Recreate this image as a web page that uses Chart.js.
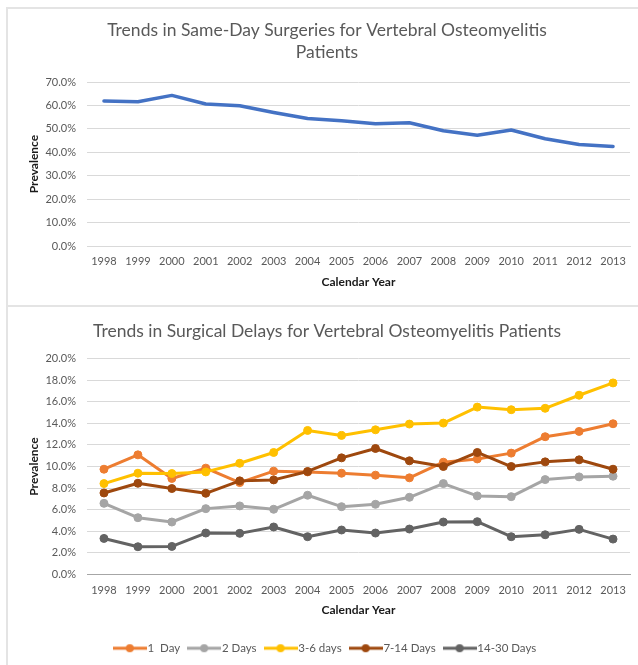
<!DOCTYPE html>
<html>
<head>
<meta charset="utf-8">
<title>Vertebral Osteomyelitis Surgery Trends</title>
<script src="https://cdn.jsdelivr.net/npm/chart.js@4.4.0/dist/chart.umd.min.js"></script>
<style>
  html, body { margin: 0; padding: 0; background: #fff; overflow: hidden; }
  .panel { position: absolute; box-sizing: border-box; border: 2px solid #e4e4e4; }
  #panelTop { left: 6px; top: 7px; width: 660px; height: 300px; }
  #panelBottom { left: 6px; top: 305px; width: 660px; height: 400px; }
  canvas { position: absolute; }
  #sameDayChart { left: 7px; top: 8px; }
  #delayChart { left: 7px; top: 309px; }
</style>
</head>
<body>
<div class="panel" id="panelTop"></div>
<div class="panel" id="panelBottom"></div>
<canvas id="sameDayChart" width="640" height="297"></canvas>
<canvas id="delayChart" width="640" height="356"></canvas>

<script>
// Data (percent)
const years = ['1998', '1999', '2000', '2001', '2002', '2003', '2004', '2005',
               '2006', '2007', '2008', '2009', '2010', '2011', '2012', '2013'];

const sameDay = [61.9, 61.6, 64.3, 60.6, 59.9, 57.0, 54.4, 53.5,
                 52.2, 52.6, 49.2, 47.3, 49.5, 45.8, 43.3, 42.5];

const delayLabels = ['1  Day', '2 Days', '3-6 days', '7-14 Days', '14-30 Days'];
const oneDay = [9.75, 11.08, 8.89, 9.85, 8.51, 9.57, 9.5, 9.38, 9.2, 8.95, 10.4, 10.7, 11.24, 12.76, 13.25, 13.96];
const twoDays = [6.59, 5.26, 4.86, 6.1, 6.35, 6.04, 7.34, 6.28, 6.5, 7.15, 8.42, 7.28, 7.21, 8.79, 9.04, 9.1];
const threeToSixDays = [8.42, 9.38, 9.35, 9.5, 10.3, 11.3, 13.34, 12.88, 13.4, 13.93, 14.02, 15.5, 15.26, 15.39, 16.6, 17.74];
const sevenToFourteenDays = [7.55, 8.45, 7.96, 7.52, 8.67, 8.76, 9.54, 10.8, 11.67, 10.53, 10.0, 11.3, 10.0, 10.43, 10.62, 9.75];
const fourteenToThirtyDays = [3.34, 2.57, 2.6, 3.84, 3.81, 4.4, 3.5, 4.12, 3.84, 4.21, 4.86, 4.89, 3.5, 3.68, 4.18, 3.28];

// Axis ranges (percent)
const sameDayAxis = { max: 70, step: 10 };
const delayAxis = { max: 20, step: 2 };

const delayColors = ['#ED7D31', '#A5A5A5', '#FFC000', '#9E480E', '#636363'];

const FONT = 'Lato, "Open Sans", sans-serif';
const tickColor = '#595959';
const gridColor = '#d9d9d9';

// Shared axis setup
function xAxis(borderColor, height, titlePad) {
    return {
        offset: true,
        grid: { display: false, drawTicks: false },
        border: { display: true, color: borderColor, width: 1 },
        ticks: { color: tickColor, font: { family: FONT, size: 11 }, padding: 9, maxRotation: 0, autoSkip: false },
        title: {
            display: true, text: 'Calendar Year', color: '#1a1a1a',
            font: { family: FONT, size: 12, weight: 'bold' },
            padding: { top: 0, bottom: titlePad }
        },
        afterFit: scale => { scale.height = height; }
    };
}

function yAxis(range) {
    return {
        min: 0,
        max: range.max,
        grid: { color: gridColor, lineWidth: 1, drawTicks: false },
        border: { display: false },
        ticks: {
            stepSize: range.step,
            color: tickColor,
            font: { family: FONT, size: 11 },
            padding: 11,
            callback: v => v.toFixed(1) + '%'
        },
        title: {
            display: true, text: 'Prevalence', color: '#1a1a1a',
            font: { family: FONT, size: 12, weight: 'bold' },
            padding: { top: 20, bottom: 0 }
        },
        afterFit: scale => { scale.width = 80; }
    };
}

// empty right-hand gutter so the title stays centred on the whole panel
function rightGutter() {
    return {
        position: 'right',
        display: true,
        grid: { display: false, drawTicks: false },
        border: { display: false },
        ticks: { display: false },
        afterFit: scale => { scale.width = 17; }
    };
}

function chartTitle(text, padBottom) {
    return {
        display: true,
        text: text,
        color: tickColor,
        font: { family: FONT, size: 17.5, weight: 'normal', lineHeight: 1.23 },
        padding: { top: 12, bottom: padBottom }
    };
}

// Legend marker: short line with a dot, like Excel
function legendMarker(color) {
    const c = document.createElement('canvas');
    c.width = 34;
    c.height = 10;
    const g = c.getContext('2d');
    g.strokeStyle = color;
    g.lineWidth = 3;
    g.beginPath();
    g.moveTo(0, 5);
    g.lineTo(34, 5);
    g.stroke();
    g.fillStyle = color;
    g.beginPath();
    g.arc(17, 5, 4, 0, Math.PI * 2);
    g.fill();
    return c;
}

// Same-day surgeries
function createSameDayChart() {
    const ctx = document.getElementById('sameDayChart').getContext('2d');
    new Chart(ctx, {
        type: 'line',
        data: {
            labels: years,
            datasets: [{
                label: 'Same-Day',
                data: sameDay,
                borderColor: '#4472C4',
                borderWidth: 3.5,
                pointRadius: 0,
                borderJoinStyle: 'round',
                borderCapStyle: 'round',
                tension: 0
            }]
        },
        options: {
            responsive: false,
            animation: false,
            layout: { padding: 0 },
            plugins: {
                legend: { display: false },
                tooltip: { enabled: false },
                title: chartTitle(['Trends in Same-Day Surgeries for Vertebral Osteomyelitis', 'Patients'], 19)
            },
            scales: {
                x: xAxis(gridColor, 59, 16),
                y: yAxis(sameDayAxis),
                gutter: rightGutter()
            }
        }
    });
}

// Surgical delays
function createDelayChart() {
    const ctx = document.getElementById('delayChart').getContext('2d');
    const series = [oneDay, twoDays, threeToSixDays, sevenToFourteenDays, fourteenToThirtyDays];
    const markers = delayColors.map(legendMarker);

    new Chart(ctx, {
        type: 'line',
        data: {
            labels: years,
            datasets: series.map((values, i) => ({
                label: delayLabels[i],
                data: values,
                order: series.length - i,
                borderColor: delayColors[i],
                backgroundColor: delayColors[i],
                borderWidth: 3,
                pointRadius: 4,
                pointBackgroundColor: delayColors[i],
                pointBorderColor: delayColors[i],
                pointBorderWidth: 1,
                borderJoinStyle: 'round',
                tension: 0
            }))
        },
        options: {
            responsive: false,
            animation: false,
            layout: { padding: { left: 0, right: 0, top: 0, bottom: 1 } },
            plugins: {
                tooltip: { enabled: false },
                title: chartTitle('Trends in Surgical Delays for Vertebral Osteomyelitis Patients', 16),
                legend: {
                    position: 'bottom',
                    labels: {
                        usePointStyle: true,
                        pointStyleWidth: 24,
                        padding: 12,
                        color: tickColor,
                        font: { family: FONT, size: 11.5 },
                        sort: (a, b) => a.datasetIndex - b.datasetIndex,
                        generateLabels: chart => {
                            const items = Chart.defaults.plugins.legend.labels.generateLabels(chart);
                            items.forEach(item => { item.pointStyle = markers[item.datasetIndex]; });
                            return items;
                        }
                    }
                }
            },
            scales: {
                x: xAxis('#a6a6a6', 56, 13),
                y: yAxis(delayAxis),
                gutter: rightGutter()
            }
        }
    });
}

window.onload = () => {
    createSameDayChart();
    createDelayChart();
};
</script>
</body>
</html>
